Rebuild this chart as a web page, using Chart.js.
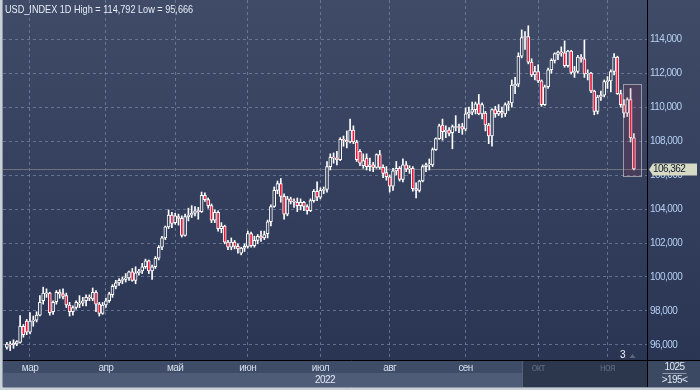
<!DOCTYPE html>
<html>
<head>
<meta charset="utf-8">
<title>USD_INDEX 1D</title>
<script src="https://cdn.jsdelivr.net/npm/chart.js@4.4.1/dist/chart.umd.min.js"></script>
<style>
  html, body { margin: 0; padding: 0; background: #c9d0d8; }
  #wrap { position: relative; width: 700px; height: 390px; overflow: hidden; }
  #title {
    position: absolute; left: 5px; top: 3px; line-height: 13px;
    font: 11px 'Liberation Sans', Arial, sans-serif;
    transform: scaleX(0.83); transform-origin: 0 0;
    color: #e6edf7; white-space: nowrap; pointer-events: none;
  }
</style>
</head>
<body>
<div id="wrap">
  <canvas id="chart" width="700" height="390"></canvas>
  <div id="title"></div>
</div>
<script>
const FONT = "'Liberation Sans', Arial, sans-serif";
const TRACKING = '-0.55px'; // squeeze canvas text to the narrow terminal font

// bar index of the first trading day of each month (bar 0 = 18 Feb 2022)
const monthTicks = [7, 30, 51, 73, 95, 116, 139, 161, 182];
const monthLabels = ['мар', 'апр', 'май', 'июн', 'июл', 'авг', 'сен', 'окт', 'ноя'];
const yearLabel = '2022';
const yTicks = [96, 98, 100, 102, 104, 106, 108, 110, 112, 114];

// daily OHLC, one value per weekday from 18 Feb to 11 Nov 2022
const opens = [
  95.85, 96.05, 96.0, 96.05, 96.15, 97.1, 97.4,
  96.75, 97.4, 97.45, 97.75, 98.6, 99.0, 99.05, 97.95, 98.55, 99.1, 99.0, 98.9, 98.35, 97.95, 98.2, 98.4, 98.45, 98.6, 98.8, 98.7, 99.1, 98.4, 97.85,
  98.35, 98.6, 98.95, 99.45, 99.65, 99.8, 99.85, 99.95, 100.3, 99.8, 100.25, 100.35, 100.6, 100.95, 100.35, 100.6, 101.1, 101.75, 102.3, 102.95, 103.65,
  103.2, 103.55, 103.45, 102.45, 103.55, 103.65, 103.75, 103.9, 103.85, 104.8, 104.55, 104.2, 103.35, 103.8, 102.85, 103.0, 102.05, 101.75, 102.05, 101.8, 101.4, 101.7,
  101.8, 102.55, 101.85, 102.15, 102.4, 102.3, 102.55, 103.25, 104.15, 105.1, 105.5, 104.75, 103.7, 104.6, 104.45, 104.4, 104.2, 104.4, 104.15, 103.9, 104.5, 105.05,
  104.7, 105.1, 105.15, 106.5, 107.05, 107.0, 106.9, 108.1, 108.05, 107.95, 108.65, 107.95, 107.4, 106.55, 107.0, 106.5, 106.6, 106.45, 107.2, 106.45, 106.15,
  105.9, 105.35, 106.25, 106.4, 105.75, 106.6, 106.35, 106.4, 105.2, 105.1, 105.65, 106.5, 106.6, 106.6, 107.5, 108.15, 108.95, 108.55, 108.65, 108.5, 108.8, 108.85, 108.85,
  108.7, 109.6, 109.7, 109.85, 110.2, 109.6, 109.65, 108.95, 108.3, 109.85, 109.6, 109.75, 109.6, 110.15, 110.25, 111.25, 111.35, 113.0, 114.1, 114.15, 112.65, 111.9,
  112.1, 111.55, 110.15, 111.2, 112.2, 112.75, 113.1, 113.25, 113.2, 112.45, 113.3, 112.05, 112.1, 112.95, 112.85, 111.95, 112.0, 110.95, 109.75, 110.6, 110.7,
  111.5, 111.55, 112.1, 112.95, 110.8, 110.15, 109.65, 110.45, 108.2
];
const highs = [
  96.15, 96.2, 96.3, 96.25, 97.73, 97.2, 97.5,
  97.9, 97.7, 97.95, 98.9, 99.4, 99.3, 99.1, 98.6, 99.2, 99.25, 99.3, 99.05, 98.5, 98.3, 98.6, 98.9, 98.8, 98.95, 98.95, 99.35, 99.2, 98.5, 98.5,
  98.75, 99.1, 99.55, 99.8, 99.9, 100.0, 100.2, 100.35, 100.5, 100.6, 100.45, 100.8, 101.05, 101.0, 100.7, 101.2, 101.85, 102.4, 103.0, 103.95, 103.8,
  103.75, 103.7, 103.6, 103.7, 104.05, 104.2, 104.15, 104.1, 105.0, 104.95, 104.65, 104.3, 103.95, 103.9, 103.2, 103.05, 102.15, 102.3, 102.15, 101.95, 101.75, 101.95,
  102.7, 102.65, 102.4, 102.5, 102.7, 102.7, 103.35, 104.25, 105.3, 105.65, 105.8, 104.9, 104.75, 104.7, 104.6, 104.65, 104.6, 104.45, 104.25, 104.6, 105.15, 105.6,
  105.25, 105.3, 106.8, 107.25, 107.3, 107.4, 108.2, 108.3, 108.6, 109.3, 108.9, 108.05, 107.5, 107.25, 107.25, 107.0, 106.75, 107.25, 107.45, 106.6, 106.5,
  106.0, 106.4, 106.8, 106.5, 106.95, 106.8, 106.55, 106.5, 105.55, 105.7, 106.6, 106.7, 106.95, 107.6, 108.2, 109.0, 109.3, 108.9, 108.8, 108.95, 109.5, 109.0, 109.05,
  109.95, 110.0, 110.3, 110.3, 110.75, 110.25, 109.75, 109.05, 109.9, 110.05, 110.15, 110.0, 110.25, 110.35, 111.6, 111.75, 113.2, 114.55, 114.45, 114.792, 112.85, 112.4,
  112.5, 111.6, 111.3, 112.3, 112.85, 113.2, 113.3, 113.55, 113.9, 113.35, 113.35, 112.4, 113.05, 113.1, 113.96, 112.2, 112.05, 111.0, 110.7, 110.95, 111.6,
  111.8, 112.2, 113.15, 113.0, 111.0, 110.45, 110.55, 111.1, 108.45
];
const lows = [
  95.75, 95.666, 95.8, 95.95, 96.1, 96.45, 96.6,
  96.65, 97.1, 97.35, 97.7, 98.4, 98.8, 97.75, 97.8, 98.4, 98.75, 98.7, 98.2, 97.7, 97.75, 98.1, 98.2, 98.3, 98.3, 98.6, 98.6, 97.95, 97.7, 97.8,
  98.2, 98.5, 98.8, 99.3, 99.5, 99.6, 99.7, 99.8, 99.75, 99.6, 100.1, 100.2, 100.5, 100.2, 99.85, 100.5, 101.0, 101.6, 102.2, 102.85, 102.9,
  103.1, 103.05, 102.35, 102.4, 103.3, 103.5, 103.6, 103.4, 103.8, 104.45, 104.05, 103.2, 103.2, 102.7, 102.6, 101.95, 101.6, 101.6, 101.65, 101.4, 101.3, 101.5,
  101.7, 101.75, 101.75, 101.95, 102.1, 102.2, 102.3, 103.0, 104.1, 104.9, 104.4, 103.4, 103.6, 104.3, 104.1, 103.85, 103.95, 103.9, 103.7, 103.85, 104.4, 104.5,
  104.6, 104.9, 105.0, 106.3, 106.7, 106.6, 106.85, 107.7, 107.6, 107.9, 107.85, 106.8, 106.55, 106.4, 106.3, 106.25, 106.2, 106.4, 106.35, 105.85, 105.7,
  105.0, 105.1, 106.0, 105.65, 105.6, 106.2, 106.1, 105.05, 104.65, 105.0, 105.6, 106.2, 106.3, 106.5, 107.45, 108.1, 108.05, 108.2, 108.3, 107.55, 108.6, 108.5, 108.4,
  108.6, 109.35, 109.55, 109.6, 109.55, 109.3, 108.6, 107.85, 107.7, 109.4, 109.5, 109.4, 109.45, 109.8, 110.0, 110.8, 111.2, 112.9, 113.4, 112.55, 111.8, 111.6,
  111.45, 110.05, 110.1, 111.1, 112.0, 112.6, 112.8, 113.0, 112.35, 112.35, 111.95, 111.75, 112.0, 112.65, 111.75, 111.6, 110.85, 109.55, 109.6, 110.4, 110.6,
  111.1, 110.9, 111.9, 110.75, 110.0, 109.4, 109.45, 107.95, 106.3
];
const closes = [
  96.05, 96.0, 96.1, 96.2, 97.1, 96.6, 96.75,
  97.4, 97.45, 97.75, 98.5, 99.05, 99.05, 97.9, 98.5, 99.1, 99.0, 98.85, 98.35, 97.95, 98.2, 98.5, 98.45, 98.6, 98.8, 98.75, 99.1, 98.4, 97.85, 98.35,
  98.6, 99.0, 99.45, 99.65, 99.8, 99.85, 99.95, 100.3, 99.8, 100.25, 100.35, 100.6, 100.95, 100.35, 100.6, 101.1, 101.75, 102.3, 102.95, 103.65, 103.15,
  103.6, 103.45, 102.45, 103.55, 103.65, 103.75, 103.9, 103.85, 104.8, 104.55, 104.2, 103.35, 103.8, 102.85, 103.0, 102.05, 101.75, 102.05, 101.8, 101.65, 101.7, 101.8,
  102.55, 101.85, 102.15, 102.4, 102.3, 102.5, 103.25, 104.15, 105.1, 105.5, 104.75, 103.7, 104.6, 104.45, 104.4, 104.2, 104.4, 104.15, 103.9, 104.5, 105.05, 104.7,
  105.1, 105.15, 106.5, 107.05, 107.0, 106.9, 108.1, 108.05, 107.95, 108.65, 107.95, 106.9, 106.7, 106.85, 106.5, 106.6, 106.45, 107.2, 106.45, 106.1, 105.9,
  105.35, 106.25, 106.4, 105.75, 106.6, 106.35, 106.4, 105.2, 105.1, 105.65, 106.5, 106.6, 106.65, 107.5, 108.15, 108.9, 108.55, 108.65, 108.45, 108.85, 108.85, 108.8, 108.7,
  109.6, 109.7, 109.85, 110.2, 109.6, 110.15, 108.95, 108.3, 109.85, 109.6, 109.75, 109.65, 110.15, 110.2, 111.3, 111.35, 113.0, 114.1, 114.15, 112.65, 111.9, 112.1,
  111.55, 110.15, 111.2, 112.2, 112.75, 113.15, 113.25, 113.2, 112.45, 113.3, 112.05, 112.1, 112.95, 112.85, 111.95, 112.0, 110.95, 109.75, 110.6, 110.7, 111.5,
  111.55, 112.1, 112.95, 110.8, 110.15, 109.65, 110.45, 108.2, 106.362
];

// visible window and the selected bars (highlight box)
const xMin = -1.18, xMax = 193.97;
const yMin = 95.11, yMax = 116.31;
const selFrom = 187, selTo = 190;
const selCount = 3;
const axisShadeFrom = 156.4;

const RED = '#e8173a';
const HOLLOW = '#34405c';

const fmt = v => v.toFixed(3).replace('.', ',');

const idx = opens.map((_, i) => i);
const bodyData = idx.map(i => ({ x: i, y: [opens[i], closes[i]] }));
const wickData = idx.map(i => ({ x: i, y: [lows[i], highs[i]] }));
const bodyFill = idx.map(i => closes[i] < opens[i] ? RED : HOLLOW);
const lastClose = closes[closes.length - 1];

document.getElementById('title').textContent =
  `USD_INDEX 1D High = ${fmt(Math.max(...highs))} Low = ${fmt(Math.min(...lows))}`;

const decor = {
  id: 'decor',
  beforeDraw(chart) {
    const { ctx, chartArea: a, scales: { x } } = chart;
    const W = chart.width, H = chart.height;
    ctx.letterSpacing = TRACKING;
    ctx.save();
    ctx.fillStyle = '#c9d0d8';
    ctx.fillRect(0, 0, W, H);
    const g = ctx.createLinearGradient(0, 0, 0, a.bottom);
    g.addColorStop(0, '#3f4b67');
    g.addColorStop(1, '#2a3554');
    ctx.fillStyle = g;
    ctx.fillRect(a.left, 0, W - a.left, a.bottom);
    // time axis: month row, year row, darker tail
    ctx.fillStyle = '#3f4c67';
    ctx.fillRect(a.left, a.bottom, a.right - a.left, 13);
    ctx.fillStyle = '#4f5c77';
    ctx.fillRect(a.left, a.bottom + 13, a.right - a.left, 14);
    const sx = x.getPixelForValue(axisShadeFrom);
    ctx.fillStyle = '#2c364d';
    ctx.fillRect(sx, a.bottom, a.right - sx, 27);
    ctx.fillStyle = '#55607a';
    ctx.fillRect(sx - 1, a.bottom, 1, 27);
    ctx.fillStyle = '#3c4962';
    ctx.fillRect(a.right, a.bottom, W - a.right, 27);
    ctx.restore();
  },
  beforeDatasetsDraw(chart) {
    const { ctx, chartArea: a, scales: { y } } = chart;
    const py = Math.round(y.getPixelForValue(lastClose)) + 0.5;
    ctx.save();
    ctx.strokeStyle = '#6d727e';
    ctx.lineWidth = 1;
    ctx.beginPath();
    ctx.moveTo(a.left, py);
    ctx.lineTo(a.right, py);
    ctx.stroke();
    ctx.restore();
  },
  afterDatasetsDraw(chart) {
    const { ctx, scales: { x, y } } = chart;
    const sel = idx.filter(i => i >= selFrom && i <= selTo);
    const hi = Math.max(...sel.map(i => highs[i])) + 0.25;
    const lo = Math.min(...sel.map(i => lows[i])) - 0.35;
    const l = Math.round(x.getPixelForValue(selFrom - 0.45)) + 0.5;
    const r = Math.round(x.getPixelForValue(selTo + 2.1)) + 0.5;
    const t = Math.round(y.getPixelForValue(hi)) + 0.5;
    const b = Math.round(y.getPixelForValue(lo)) + 0.5;
    ctx.save();
    ctx.fillStyle = 'rgba(165,52,79,0.16)';
    ctx.fillRect(l, t, r - l, b - t);
    ctx.strokeStyle = '#f2f2f2';
    ctx.setLineDash([1, 1]);
    ctx.lineWidth = 1;
    ctx.strokeRect(l, t, r - l, b - t);
    ctx.setLineDash([]);
    // bar count marker
    ctx.fillStyle = '#f0f4fa';
    ctx.font = '10px ' + FONT;
    ctx.textAlign = 'center';
    ctx.textBaseline = 'middle';
    ctx.fillText(String(selCount), l - 1, 355);
    ctx.fillStyle = '#5c667a';
    ctx.beginPath();
    ctx.moveTo(l + 6, 358);
    ctx.lineTo(l + 9, 354);
    ctx.lineTo(l + 12, 358);
    ctx.closePath();
    ctx.fill();
    ctx.restore();
  },
  afterDraw(chart) {
    const { ctx, chartArea: a, scales: { y } } = chart;
    const W = chart.width;
    ctx.save();
    // frame lines
    ctx.strokeStyle = '#000000';
    ctx.lineWidth = 1;
    ctx.beginPath();
    ctx.moveTo(a.right + 0.5, 0);
    ctx.lineTo(a.right + 0.5, a.bottom + 27);
    ctx.moveTo(a.left, a.bottom + 0.5);
    ctx.lineTo(W, a.bottom + 0.5);
    ctx.stroke();
    ctx.strokeStyle = '#8e98a4';
    ctx.beginPath();
    ctx.moveTo(a.left - 0.5, 0);
    ctx.lineTo(a.left - 0.5, a.bottom + 27);
    ctx.moveTo(a.left, a.bottom + 27.5);
    ctx.lineTo(W, a.bottom + 27.5);
    ctx.stroke();
    // year
    ctx.font = '10px ' + FONT;
    ctx.textAlign = 'center';
    ctx.textBaseline = 'middle';
    ctx.fillStyle = '#e2e9f4';
    ctx.fillText(yearLabel, (a.left + a.right) / 2, a.bottom + 20);
    // corner box
    const cx = (a.right + W) / 2 + 1;
    ctx.fillText('1025', cx, a.bottom + 7);
    ctx.fillText('>195<', cx, a.bottom + 20);
    ctx.strokeStyle = '#8a96aa';
    ctx.beginPath();
    ctx.moveTo(cx - 12, a.bottom + 13.5);
    ctx.lineTo(cx + 12, a.bottom + 13.5);
    ctx.stroke();
    // last price label
    const py = Math.round(y.getPixelForValue(lastClose)) + 0.5;
    ctx.fillStyle = '#d7dbc5';
    ctx.beginPath();
    ctx.moveTo(a.right + 2, py);
    ctx.lineTo(a.right + 6, py - 6);
    ctx.lineTo(W - 3, py - 6);
    ctx.lineTo(W - 3, py + 6);
    ctx.lineTo(a.right + 6, py + 6);
    ctx.closePath();
    ctx.fill();
    ctx.fillStyle = '#101826';
    ctx.textAlign = 'left';
    ctx.fillText(fmt(lastClose), a.right + 6, py);
    ctx.restore();
  }
};

new Chart(document.getElementById('chart'), {
  type: 'bar',
  data: {
    datasets: [
      {
        label: 'body',
        data: bodyData,
        backgroundColor: bodyFill,
        borderColor: '#ffffff',
        borderWidth: 1,
        borderSkipped: false,
        barThickness: 3,
        minBarLength: 1,
        grouped: false,
        order: 1
      },
      {
        label: 'wick',
        data: wickData,
        backgroundColor: '#ffffff',
        borderWidth: 0,
        barThickness: 1,
        grouped: false,
        order: 2
      }
    ]
  },
  options: {
    responsive: false,
    animation: false,
    layout: { padding: { left: 3, top: 0, right: 0, bottom: 0 } },
    plugins: {
      legend: { display: false },
      tooltip: { enabled: false },
      title: { display: false }
    },
    scales: {
      x: {
        type: 'linear',
        min: xMin,
        max: xMax,
        offset: false,
        afterBuildTicks: s => { s.ticks = monthTicks.map(v => ({ value: v })); },
        afterFit: s => { s.height = 30; s.paddingLeft = 0; s.paddingRight = 0; },
        grid: { color: 'rgba(130,148,180,0.6)', drawTicks: false, offset: false },
        border: { display: false, dash: [3, 3] },
        ticks: {
          autoSkip: false,
          maxRotation: 0,
          padding: 2,
          font: { family: FONT, size: 10 },
          color: ctx => ctx.tick && ctx.tick.value >= axisShadeFrom ? '#5d6a82' : '#d4deec',
          callback: v => monthLabels[monthTicks.indexOf(v)]
        }
      },
      y: {
        position: 'right',
        min: yMin,
        max: yMax,
        afterBuildTicks: s => { s.ticks = yTicks.map(v => ({ value: v })); },
        afterFit: s => { s.width = 53; s.paddingTop = 0; s.paddingBottom = 0; },
        grid: { color: 'rgba(130,148,180,0.6)', drawTicks: false },
        border: { display: false, dash: [3, 3] },
        ticks: {
          padding: 3,
          font: { family: FONT, size: 10 },
          color: '#b6d0f2',
          callback: v => fmt(v)
        }
      }
    }
  },
  plugins: [decor]
});
</script>
</body>
</html>
